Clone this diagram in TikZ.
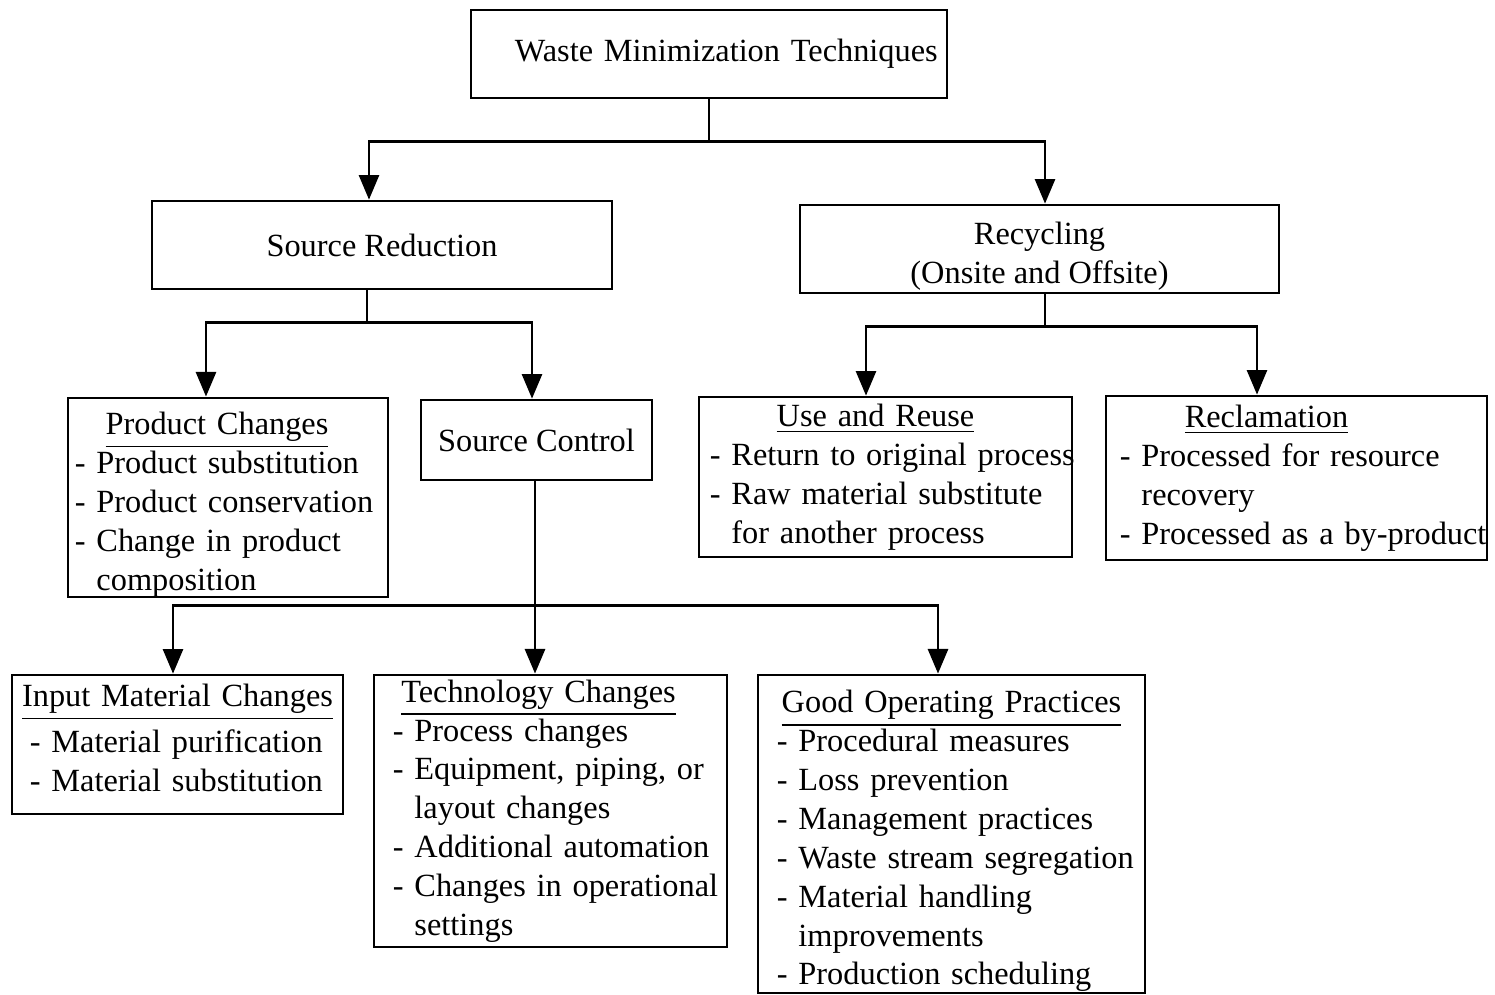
\documentclass[tikz,border=0pt]{standalone}
\usepackage{fontspec}
\setmainfont{Liberation Serif}
\usetikzlibrary{arrows.meta, positioning}
\newcommand{\wtitle}[2][0pt]{\makebox[\hsize]{\underline{#2}\hspace*{#1}}}
\newcommand{\witem}[1]{\mbox{- #1}}
\newcommand{\wcont}[1]{\mbox{\hphantom{- }#1}}
\newcommand{\wtop}{\rule{0pt}{10.5pt}}
\newcommand{\wbot}{\rule[-3.7pt]{0pt}{3.7pt}}

\begin{document}
\begin{tikzpicture}[x=0.01cm, y=-0.01cm, font=\fontsize{9.2}{11.05}\selectfont]
			\tikzset{%
				wbox/.style={rectangle, draw=black, line width=0.75pt, inner sep=0pt, align=left},
				wline/.style={line width=0.75pt},
				warrow/.style={wline, ->, >={Triangle[width=5.7pt, length=7pt]}}
			}
			\useasboundingbox (0,0) rectangle (1495,995);
			\node[wbox, minimum width=4.76cm, minimum height=0.88cm, text width=3.88cm](top) at (709,54){\mbox{Waste Minimization Techniques}};
			\node[wbox, minimum width=4.6cm, minimum height=0.88cm](srcred) at (382,245){Source Reduction};
			\node[wbox, align=center, minimum width=4.79cm, minimum height=0.88cm](recyc) at (1039.5,249){\wtop Recycling\\(Onsite and Offsite)};
			\node[wbox, minimum width=3.2cm, minimum height=1.97cm, text width=3.06cm](prodchg) at (228,497.5){\wtop\wtitle[0.22cm]{Product Changes}\\ \witem{Product substitution}\\ \witem{Product conservation}\\ \witem{Change in product}\\ \wcont{composition}};
			\node[wbox, minimum width=2.31cm, minimum height=0.8cm](srcctl) at (536.5,440){Source Control};
			\node[wbox, minimum width=3.73cm, minimum height=1.6cm, text width=3.51cm](reuse) at (885.5,477){\wtitle[0.2cm]{Use and Reuse}\\ \witem{Return to original process}\\ \witem{Raw material substitute}\\ \wcont{for another process}};
			\node[wbox, minimum width=3.81cm, minimum height=1.64cm, text width=3.53cm](reclaim) at (1296.5,478){\wtitle[0.6cm]{Reclamation}\\ \witem{Processed for resource}\\ \wcont{recovery}\\ \witem{Processed as a by-product}};
			\node[wbox, minimum width=3.31cm, minimum height=1.39cm, text width=2.95cm](inputmat) at (177.5,744.5){\wtitle{Input Material Changes}\\[2pt] \witem{Material purification}\\ \witem{Material substitution}\wbot};
			\node[wbox, minimum width=3.53cm, minimum height=2.72cm, text width=3.15cm](techchg) at (550.5,811){\wtitle[0.24cm]{Technology Changes}\\ \witem{Process changes}\\ \witem{Equipment, piping, or}\\ \wcont{layout changes}\\ \witem{Additional automation}\\ \witem{Changes in operational}\\ \wcont{settings}};
			\node[wbox, minimum width=3.87cm, minimum height=3.18cm, text width=3.49cm](goodop) at (951.5,834){\wtop\wtitle{Good Operating Practices}\\ \witem{Procedural measures}\\ \witem{Loss prevention}\\ \witem{Management practices}\\ \witem{Waste stream segregation}\\ \witem{Material handling}\\ \wcont{improvements}\\ \witem{Production scheduling}};
			% top level
			\draw[wline] (top.south) -- ++(0,42) coordinate (jtop);
			\draw[warrow] (jtop) -| ([xshift=-0.13cm]srcred.north);
			\draw[warrow] (jtop) -| ([xshift=0.055cm]recyc.north);
			% source reduction
			\draw[wline] ([xshift=-0.15cm]srcred.south) -- ++(0,32) coordinate (jsrc);
			\draw[warrow] (jsrc) -| ([xshift=-0.22cm]prodchg.north);
			\draw[warrow] (jsrc) -| ([xshift=-0.045cm]srcctl.north);
			% recycling
			\draw[wline] ([xshift=0.055cm]recyc.south) -- ++(0,32) coordinate (jrec);
			\draw[warrow] (jrec) -| ([xshift=-0.195cm]reuse.north);
			\draw[warrow] (jrec) -| ([xshift=-0.395cm]reclaim.north);
			% source control
			\draw[wline] ([xshift=-0.015cm]srcctl.south) -- ++(0,124) coordinate (jctl);
			\draw[warrow] (jctl) -| ([xshift=-0.045cm]inputmat.north);
			\draw[warrow] (jctl) -- (jctl |- techchg.north);
			\draw[warrow] (jctl) -| ([xshift=-0.135cm]goodop.north);
		\end{tikzpicture}
\end{document}
